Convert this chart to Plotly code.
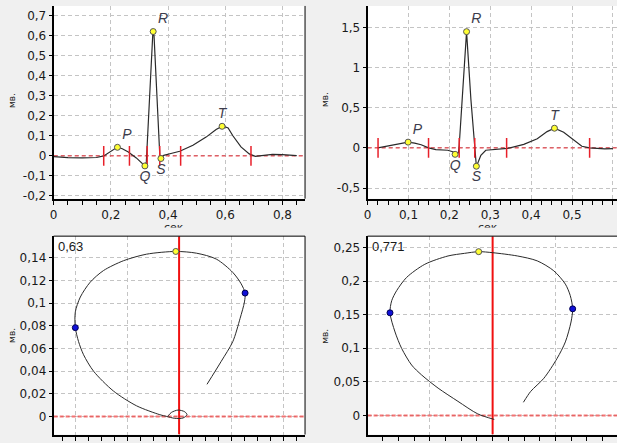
import plotly.graph_objects as go

W, H = 617, 443

# ---------------- data ----------------
# top-left ECG (time, s ; amplitude, mV)
ecg1_t = [0.000, 0.050, 0.100, 0.150, 0.175, 0.200, 0.223, 0.240, 0.261, 0.289, 0.319, 0.324,
          0.335, 0.347, 0.351, 0.360, 0.371, 0.375, 0.385, 0.410, 0.441, 0.487, 0.533, 0.568,
          0.591, 0.610, 0.626, 0.655, 0.684, 0.705, 0.742, 0.765, 0.800, 0.850]
ecg1_v = [-0.004, -0.009, -0.010, -0.008, 0.000, 0.025, 0.044, 0.036, 0.020, -0.010, -0.050, -0.030,
          0.280, 0.622, 0.600, 0.320, 0.005, -0.013, 0.003, 0.012, 0.023, 0.053, 0.094, 0.132,
          0.150, 0.140, 0.102, 0.045, 0.010, -0.002, 0.005, 0.008, 0.006, 0.001]
peak1_t = [0.223, 0.319, 0.348, 0.375, 0.589]
peak1_v = [0.043, -0.050, 0.622, -0.013, 0.148]
bound1_t = [0.175, 0.265, 0.327, 0.371, 0.444, 0.690]

# top-right ECG
ecg2_t = [0.025, 0.045, 0.060, 0.080, 0.099, 0.115, 0.131, 0.149, 0.167, 0.196, 0.210, 0.214,
          0.222, 0.224, 0.232, 0.242, 0.2526, 0.2606, 0.266, 0.271, 0.277, 0.289, 0.3175, 0.342,
          0.382, 0.415, 0.439, 0.457, 0.4796, 0.504, 0.524, 0.543, 0.560, 0.580, 0.600]
ecg2_v = [0.000, 0.020, 0.035, 0.055, 0.072, 0.060, 0.040, 0.000, -0.022, -0.029, -0.050, -0.080,
          -0.060, 0.030, 0.647, 1.447, 0.606, 0.072, -0.228, -0.170, -0.092, -0.029, -0.017, -0.006,
          0.044, 0.113, 0.203, 0.245, 0.196, 0.105, 0.020, 0.000, -0.008, -0.012, -0.008]
peak2_t = [0.099, 0.214, 0.242, 0.266, 0.457]
peak2_v = [0.072, -0.080, 1.447, -0.228, 0.245]
bound2_t = [0.0255, 0.149, 0.224, 0.262, 0.340, 0.543]

peak_names = ["P", "Q", "R", "S", "T"]
peak_pos = ["top right", "bottom center", "top right", "bottom center", "top center"]

# bottom-left loop
loop1_x = [-0.0105, -0.0074, -0.0010, 0.0054, 0.0076, 0.0038, -0.0041, -0.0121, -0.0185, -0.0408,
           -0.0631, -0.0822, -0.0918, -0.0966, -0.0997, -0.0997, -0.0949, -0.0854, -0.0727, -0.0535,
           -0.0313, -0.0032, 0.0166, 0.0357, 0.0516, 0.0596, 0.0634, 0.0628, 0.0586, 0.0516, 0.0405, 0.0268]
loop1_y = [0.0005, 0.0035, 0.0056, 0.0041, 0.0015, -0.0014, -0.0017, 0.0000, 0.0015, 0.0093,
           0.0224, 0.0399, 0.0544, 0.0660, 0.0783, 0.0922, 0.1053, 0.1184, 0.1286, 0.1373,
           0.1431, 0.1455, 0.1440, 0.1388, 0.1270, 0.1170, 0.1088, 0.1010, 0.0864, 0.0660, 0.0486, 0.0283]
loop1_side_x = [-0.0997, 0.0634]
loop1_side_y = [0.0783, 0.1088]
loop1_top_x = [-0.0032]
loop1_top_y = [0.1455]
loop1_label = "0,63"

# bottom-right loop
loop2_x = [0.0013, -0.0118, -0.0276, -0.0434, -0.0566, -0.0645, -0.0724, -0.0777, -0.0817, -0.0803,
           -0.0764, -0.0685, -0.0540, -0.0355, -0.0224, -0.0111, 0.0000, 0.0197, 0.0355, 0.0487,
           0.0579, 0.0618, 0.0637, 0.0624, 0.0579, 0.0513, 0.0408, 0.0303, 0.0245]
loop2_y = [-0.0060, 0.0022, 0.0209, 0.0406, 0.0603, 0.0750, 0.0996, 0.1242, 0.1527, 0.1709,
           0.1857, 0.2053, 0.2249, 0.2373, 0.2412, 0.2437, 0.2422, 0.2373, 0.2300, 0.2152,
           0.1954, 0.1783, 0.1586, 0.1390, 0.1094, 0.0848, 0.0553, 0.0357, 0.0195]
loop2_side_x = [-0.0817, 0.0637]
loop2_side_y = [0.1527, 0.1586]
loop2_top_x = [-0.0111]
loop2_top_y = [0.2437]
loop2_label = "0,771"

# tick labels
x1_vals = [0, 0.2, 0.4, 0.6, 0.8]
x1_text = ["0", "0,2", "0,4", "0,6", "0,8"]
y1_vals = [-0.2, -0.1, 0, 0.1, 0.2, 0.3, 0.4, 0.5, 0.6, 0.7]
y1_text = ["-0,2", "-0,1", "0", "0,1", "0,2", "0,3", "0,4", "0,5", "0,6", "0,7"]
x2_vals = [0, 0.1, 0.2, 0.3, 0.4, 0.5, 0.6]
x2_text = ["0", "0,1", "0,2", "0,3", "0,4", "0,5", "0,6"]
y2_vals = [-0.5, 0, 0.5, 1, 1.5]
y2_text = ["-0,5", "0", "0,5", "1", "1,5"]
x3_vals = [-0.1, -0.05, 0, 0.05, 0.1]
y3_vals = [0, 0.02, 0.04, 0.06, 0.08, 0.1, 0.12, 0.14]
y3_text = ["0", "0,02", "0,04", "0,06", "0,08", "0,1", "0,12", "0,14"]
x4_vals = [-0.1, -0.05, 0, 0.05, 0.1]
y4_vals = [0, 0.05, 0.1, 0.15, 0.2, 0.25]
y4_text = ["0", "0,05", "0,1", "0,15", "0,2", "0,25"]

# axis ranges
x1_range = [0, 0.879]
y1_range = [-0.214, 0.75]
x2_range = [0, 0.610]
y2_range = [-0.632, 1.767]
x3_range = [-0.1205, 0.121]
y3_range = [-0.016, 0.159]
x4_range = [-0.0995, 0.099]
y4_range = [-0.0285, 0.2668]

# ---------------- styling helpers ----------------
def fx(px):
    return px / W

def fy(py):
    return 1 - py / H

TICKFONT = dict(family="DejaVu Sans", size=12, color="#1a1a1a")
GRID = "#c4c4c4"
CURVE = "#2a2a2a"
RED = "#e8202a"
YELLOW = "#ffff33"
BLUE = "#1010d8"
LABFONT = dict(family="Liberation Sans", size=14, color="#3c3c4c", style="italic")

fig = go.Figure()


def ref_lines(xa, ya, xr, yr, bottom):
    # zero reference lines (red)
    if bottom:
        fig.add_trace(go.Scatter(x=xr, y=[0, 0], mode="lines", xaxis=xa, yaxis=ya,
                                 line=dict(color="rgba(240,70,70,0.75)", width=2, dash="4px,2px")))
        fig.add_trace(go.Scatter(x=[0, 0], y=yr, mode="lines", xaxis=xa, yaxis=ya,
                                 line=dict(color="#f01010", width=2)))
    else:
        fig.add_trace(go.Scatter(x=xr, y=[0, 0], mode="lines", xaxis=xa, yaxis=ya,
                                 line=dict(color=RED, width=1, dash="4px,3px")))


ref_lines("x", "y", x1_range, y1_range, False)
ref_lines("x2", "y2", x2_range, y2_range, False)
ref_lines("x3", "y3", x3_range, y3_range, True)
ref_lines("x4", "y4", x4_range, y4_range, True)

# top-left
fig.add_trace(go.Scatter(x=ecg1_t, y=ecg1_v, mode="lines", line=dict(color=CURVE, width=1.2),
                         xaxis="x", yaxis="y"))
fig.add_trace(go.Scatter(x=bound1_t, y=[0] * len(bound1_t), mode="markers",
                         marker=dict(symbol="line-ns", size=14, line=dict(color=RED, width=1.5)),
                         xaxis="x", yaxis="y"))
fig.add_trace(go.Scatter(x=peak1_t, y=peak1_v, mode="markers+text", text=peak_names,
                         textposition=peak_pos, textfont=LABFONT, cliponaxis=False,
                         marker=dict(size=6, color=YELLOW, line=dict(color="#555555", width=1)),
                         xaxis="x", yaxis="y"))
# top-right
fig.add_trace(go.Scatter(x=ecg2_t, y=ecg2_v, mode="lines", line=dict(color=CURVE, width=1.2),
                         xaxis="x2", yaxis="y2"))
fig.add_trace(go.Scatter(x=bound2_t, y=[0] * len(bound2_t), mode="markers",
                         marker=dict(symbol="line-ns", size=14, line=dict(color=RED, width=1.5)),
                         xaxis="x2", yaxis="y2"))
fig.add_trace(go.Scatter(x=peak2_t, y=peak2_v, mode="markers+text", text=peak_names,
                         textposition=peak_pos, textfont=LABFONT, cliponaxis=False,
                         marker=dict(size=6, color=YELLOW, line=dict(color="#555555", width=1)),
                         xaxis="x2", yaxis="y2"))
# bottom-left
fig.add_trace(go.Scatter(x=loop1_x, y=loop1_y, mode="lines",
                         line=dict(color=CURVE, width=1, shape="spline", smoothing=0.8),
                         xaxis="x3", yaxis="y3"))
fig.add_trace(go.Scatter(x=loop1_side_x, y=loop1_side_y, mode="markers",
                         marker=dict(size=6, color=BLUE, line=dict(color="#000050", width=1)),
                         xaxis="x3", yaxis="y3"))
fig.add_trace(go.Scatter(x=loop1_top_x, y=loop1_top_y, mode="markers",
                         marker=dict(size=6, color=YELLOW, line=dict(color="#555555", width=1)),
                         xaxis="x3", yaxis="y3"))
# bottom-right
fig.add_trace(go.Scatter(x=loop2_x, y=loop2_y, mode="lines",
                         line=dict(color=CURVE, width=1, shape="spline", smoothing=0.8),
                         xaxis="x4", yaxis="y4"))
fig.add_trace(go.Scatter(x=loop2_side_x, y=loop2_side_y, mode="markers",
                         marker=dict(size=6, color=BLUE, line=dict(color="#000050", width=1)),
                         xaxis="x4", yaxis="y4"))
fig.add_trace(go.Scatter(x=loop2_top_x, y=loop2_top_y, mode="markers",
                         marker=dict(size=6, color=YELLOW, line=dict(color="#555555", width=1)),
                         xaxis="x4", yaxis="y4"))


def xax(domain, rng, vals, text, minor_dtick, anchor, show_labels=True):
    d = dict(domain=domain, range=rng, anchor=anchor, tickmode="array", tickvals=vals,
             showline=True, linecolor="black", linewidth=2, ticks="outside", ticklen=4,
             tickcolor="black", tickwidth=1, showgrid=True, gridcolor=GRID, gridwidth=1,
             griddash="4px,3px", zeroline=False, tickfont=TICKFONT,
             showticklabels=show_labels, fixedrange=True,
             minor=dict(tickmode="linear", tick0=0, dtick=minor_dtick, ticks="outside",
                        ticklen=4, tickcolor="black", tickwidth=1, showgrid=False))
    if text is not None:
        d["ticktext"] = text
    return d


def yax(domain, rng, vals, text, anchor):
    return dict(domain=domain, range=rng, anchor=anchor, tickmode="array", tickvals=vals,
                ticktext=text, showline=True, linecolor="black", linewidth=2, ticks="outside",
                ticklen=3, tickcolor="black", tickwidth=1, showgrid=True, gridcolor=GRID,
                gridwidth=1, griddash="4px,3px", zeroline=False, tickfont=TICKFONT,
                fixedrange=True)


top_dom = [fy(200.5), fy(6)]
bot_dom = [fy(438.5), fy(238.3)]
left_dom = [fx(50), fx(303)]
right_dom = [fx(366), 1.0]

shapes = []
frame = dict(color="black", width=1)
shapes.append(dict(type="line", xref="paper", yref="paper", x0=left_dom[1], x1=left_dom[1],
                   y0=top_dom[0], y1=top_dom[1], line=frame))
shapes.append(dict(type="line", xref="paper", yref="paper", x0=left_dom[1], x1=left_dom[1],
                   y0=bot_dom[0], y1=bot_dom[1], line=frame))
shapes.append(dict(type="line", xref="paper", yref="paper", x0=left_dom[0], x1=left_dom[1],
                   y0=bot_dom[1], y1=bot_dom[1], line=frame))
shapes.append(dict(type="line", xref="paper", yref="paper", x0=right_dom[0], x1=right_dom[1],
                   y0=bot_dom[1], y1=bot_dom[1], line=frame))

ann = []
unitfont = dict(family="DejaVu Sans", size=9, color="#202020")
for px, py in ((8, 101), (323, 100), (8, 338), (323, 339)):
    ann.append(dict(text="мв.", xref="paper", yref="paper", x=fx(px), y=fy(py), showarrow=False,
                    textangle=-90, font=unitfont, xanchor="center", yanchor="middle"))
# x-axis titles of the top charts, half hidden by the lower panels
secfont = dict(family="DejaVu Sans", size=11, color="#1a1a1a")
for px in (171, 487):
    ann.append(dict(text="сек", xref="paper", yref="paper", x=fx(px), y=fy(220.5), showarrow=False,
                    font=secfont, xanchor="center", yanchor="top"))
for px in (171, 487):
    ann.append(dict(text=" ", xref="paper", yref="paper", x=fx(px), y=fy(229.5), showarrow=False,
                    width=34, height=6, borderpad=0, bgcolor="#f0f0f0",
                    xanchor="center", yanchor="top"))
valfont = dict(family="Liberation Sans", size=13, color="#1a1a1a")
ann.append(dict(text=loop1_label, xref="paper", yref="paper", x=fx(52), y=fy(239.5), showarrow=False,
                font=valfont, xanchor="left", yanchor="top"))
ann.append(dict(text=loop2_label, xref="paper", yref="paper", x=fx(368), y=fy(239.5), showarrow=False,
                font=valfont, xanchor="left", yanchor="top"))

fig.update_layout(
    width=W, height=H, margin=dict(l=0, r=0, t=0, b=0, pad=0),
    paper_bgcolor="#f0f0f0", plot_bgcolor="white", showlegend=False,
    xaxis=xax(left_dom, x1_range, x1_vals, x1_text, 0.05, "y"),
    yaxis=yax(top_dom, y1_range, y1_vals, y1_text, "x"),
    xaxis2=xax(right_dom, x2_range, x2_vals, x2_text, 0.025, "y2"),
    yaxis2=yax(top_dom, y2_range, y2_vals, y2_text, "x2"),
    xaxis3=xax(left_dom, x3_range, x3_vals, None, 0.0125, "y3", show_labels=False),
    yaxis3=yax(bot_dom, y3_range, y3_vals, y3_text, "x3"),
    xaxis4=xax(right_dom, x4_range, x4_vals, None, 0.0125, "y4", show_labels=False),
    yaxis4=yax(bot_dom, y4_range, y4_vals, y4_text, "x4"),
    shapes=shapes, annotations=ann, hovermode=False,
)

fig.write_html("out.html", config={"displayModeBar": False},
               post_script="document.body.style.margin='0px';"
                           "document.body.style.background='#f0f0f0';")
